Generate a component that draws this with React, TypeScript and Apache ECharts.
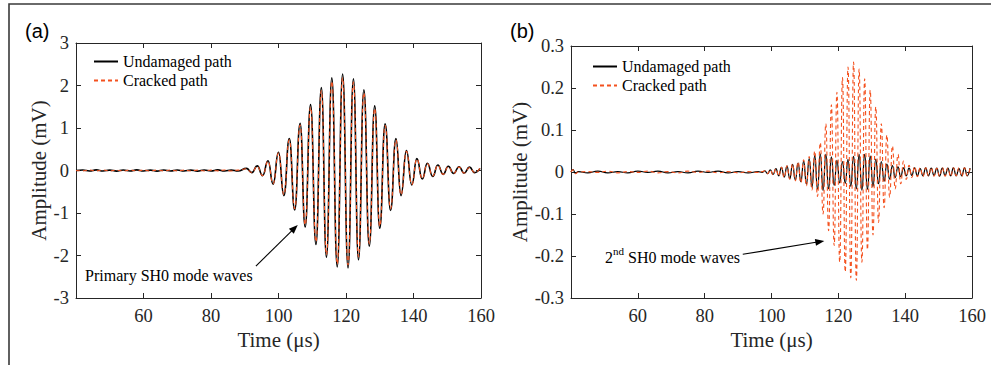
import React, { useEffect, useRef } from 'react';
import * as echarts from 'echarts';

// ---------- data ----------
const X_MIN = 40;
const X_MAX = 160;
const X_STEP = 20;

// Panel (a): primary SH0 mode, baseline noise before arrival
const aBaseT = [40, 42, 44, 46, 48, 50, 52, 54, 56, 58, 60, 62, 64, 66, 68, 70, 72, 74, 76, 78, 80, 82, 84, 86, 88];
const aBaseUndamaged = [0.0, 0.012, -0.01, 0.015, -0.012, 0.01, -0.014, 0.012, -0.01, 0.014, -0.012, 0.01, -0.015, 0.012, -0.01, 0.013, -0.012, 0.01, -0.014, 0.012, -0.01, 0.015, -0.012, 0.01, -0.013];
const aBaseCracked = [0.0, -0.008, 0.011, -0.009, 0.012, -0.01, 0.008, -0.012, 0.01, -0.009, 0.011, -0.012, 0.009, -0.01, 0.012, -0.008, 0.01, -0.011, 0.009, -0.012, 0.01, -0.009, 0.011, -0.01, 0.008];

// Panel (a): wave-packet extrema (time, amplitude)
const aPeakT = [90.5, 92.1, 93.7, 95.3, 96.9, 98.4, 100.0, 101.6, 103.2, 104.8, 106.4, 107.9, 109.5, 111.1, 112.7, 114.2, 115.8, 117.4, 119.0, 120.6, 122.2, 123.7, 125.3, 126.9, 128.5, 130.0, 131.6, 133.2, 134.8, 136.3, 137.9, 139.5, 141.0, 142.6, 144.1, 145.7, 147.2, 148.8, 150.3, 151.9, 153.5, 155.0, 156.6, 158.1, 159.7];
const aUndamaged = [0.05, -0.05, 0.11, -0.12, 0.23, -0.32, 0.43, -0.59, 0.75, -0.93, 1.11, -1.33, 1.55, -1.74, 1.95, -2.04, 2.18, -2.27, 2.27, -2.29, 2.16, -2.1, 1.9, -1.78, 1.52, -1.36, 1.1, -0.94, 0.75, -0.59, 0.47, -0.34, 0.28, -0.2, 0.17, -0.14, 0.13, -0.09, 0.1, -0.07, 0.09, -0.06, 0.08, -0.05, 0.05];
const aCracked = [0.04, -0.05, 0.1, -0.12, 0.22, -0.31, 0.41, -0.57, 0.72, -0.9, 1.07, -1.28, 1.49, -1.68, 1.88, -1.98, 2.1, -2.2, 2.18, -2.22, 2.08, -2.03, 1.83, -1.72, 1.46, -1.31, 1.06, -0.9, 0.72, -0.57, 0.45, -0.33, 0.27, -0.19, 0.16, -0.13, 0.12, -0.09, 0.09, -0.07, 0.08, -0.06, 0.07, -0.05, 0.05];

// Panel (b): 2nd SH0 mode, baseline before arrival
const bBaseT = [40, 40.6, 41.3, 42.2, 45, 48, 51, 54, 57, 60, 63, 66, 69, 72, 75, 78, 81, 84, 87, 90, 93, 96, 97.2];
const bBaseUndamaged = [0, 0.006, -0.003, 0.001, -0.002, 0.002, -0.002, 0.001, -0.002, 0.002, -0.001, 0.002, -0.002, 0.001, -0.002, 0.002, -0.001, 0.002, -0.002, 0.001, -0.002, 0.001, -0.001];
const bBaseCracked = [0, 0.005, -0.004, 0.0, 0.001, -0.001, 0.002, -0.002, 0.001, -0.001, 0.002, -0.002, 0.001, -0.002, 0.002, -0.001, 0.002, -0.002, 0.001, -0.002, 0.001, -0.001, 0.001];

// Panel (b): extrema times and amplitudes
const bT = [98.0, 98.83, 99.66, 100.49, 101.32, 102.15, 102.98, 103.81, 104.64, 105.47,
  106.3, 107.13, 107.96, 108.79, 109.62, 110.45, 111.28, 112.11, 112.94, 113.77,
  114.6, 115.43, 116.26, 117.09, 117.92, 118.75, 119.58, 120.41, 121.24, 122.07,
  122.9, 123.73, 124.56, 125.39, 126.22, 127.05, 127.88, 128.71, 129.54, 130.37,
  131.2, 132.03, 132.86, 133.69, 134.52, 135.35, 136.18, 137.01, 137.84, 138.67,
  139.5, 140.33, 141.16, 141.99, 142.82, 143.65, 144.48, 145.31, 146.14, 146.97,
  147.8, 148.63, 149.46, 150.29, 151.12, 151.95, 152.78, 153.61, 154.44, 155.27,
  156.1, 156.93, 157.76, 158.59, 159.42];
const bUndamaged = [0.003, -0.004, 0.005, -0.006, 0.008, -0.009, 0.011, -0.012, 0.014, -0.016,
  0.018, -0.019, 0.021, -0.023, 0.026, -0.029, 0.032, -0.036, 0.039, -0.041,
  0.043, -0.044, 0.042, -0.04, 0.036, -0.032, 0.028, -0.026, 0.025, -0.027,
  0.03, -0.034, 0.037, -0.04, 0.042, -0.043, 0.042, -0.041, 0.038, -0.035,
  0.031, -0.028, 0.025, -0.022, 0.019, -0.017, 0.015, -0.013, 0.012, -0.011,
  0.01, -0.009, 0.009, -0.008, 0.01, -0.009, 0.008, -0.009, 0.01, -0.009,
  0.009, -0.008, 0.009, -0.01, 0.009, -0.008, 0.009, -0.009, 0.01, -0.009,
  0.008, -0.009, 0.01, -0.009, 0.009];
const bCracked = [0.003, -0.004, 0.005, -0.007, 0.008, -0.01, 0.011, -0.013, 0.015, -0.017,
  0.019, -0.021, 0.024, -0.026, 0.029, -0.033, 0.037, -0.043, 0.05, -0.058,
  0.07, -0.1, 0.115, -0.14, 0.16, -0.175, 0.19, -0.215, 0.225, -0.238,
  0.25, -0.252, 0.262, -0.258, 0.245, -0.215, 0.222, -0.185, 0.195, -0.15,
  0.155, -0.12, 0.115, -0.085, 0.088, -0.06, 0.062, -0.04, 0.042, -0.028,
  0.026, -0.018, 0.016, -0.013, 0.013, -0.011, 0.01, -0.011, 0.01, -0.009,
  0.011, -0.01, 0.009, -0.01, 0.011, -0.01, 0.009, -0.011, 0.01, -0.009,
  0.01, -0.011, 0.01, -0.009, 0.01];

const SERIES_NAMES = ['Undamaged path', 'Cracked path'];

// Annotation anchors in data coordinates
const A_ARROW_FROM = [93.3, -2.25];
const A_ARROW_TO = [105.7, -1.28];
const A_TEXT_AT = [42.7, -2.46];
const B_ARROW_FROM = [91.4, -0.196];
const B_ARROW_TO = [115.8, -0.164];
const B_TEXT_AT = [50.2, -0.203];

// ---------- styling ----------
const SERIF = '"Liberation Serif", "Times New Roman", serif';
const SANS = '"Liberation Sans", Arial, sans-serif';
const AXIS_COLOR = '#262626';
const ORANGE = '#f4511e';

const zip = (ts: number[], vs: number[]) => ts.map((t, i) => [t, vs[i]]);

function xAxes(gridIndex: number) {
  const common = {
    type: 'value' as const,
    gridIndex,
    min: X_MIN,
    max: X_MAX,
    interval: X_STEP,
    splitLine: { show: false },
    axisLine: { show: true, onZero: false, lineStyle: { color: AXIS_COLOR, width: 1 } },
    axisTick: { show: true, inside: true, length: 5, lineStyle: { color: AXIS_COLOR } },
  };
  return [
    {
      ...common,
      position: 'bottom',
      name: 'Time (μs)',
      nameLocation: 'middle',
      nameGap: 31,
      nameTextStyle: { fontFamily: SERIF, fontSize: 21, color: AXIS_COLOR },
      axisLabel: {
        show: true,
        margin: 8,
        fontFamily: SERIF,
        fontSize: 18.5,
        color: AXIS_COLOR,
        formatter: (v: number) => (v === X_MIN ? '' : String(v)),
      },
    },
    { ...common, position: 'top', axisLabel: { show: false } },
  ];
}

function yAxes(gridIndex: number, min: number, max: number, step: number, nameGap: number) {
  const common = {
    type: 'value' as const,
    gridIndex,
    min,
    max,
    interval: step,
    splitLine: { show: false },
    axisLine: { show: true, onZero: false, lineStyle: { color: AXIS_COLOR, width: 1 } },
    axisTick: { show: true, inside: true, length: 5, lineStyle: { color: AXIS_COLOR } },
  };
  return [
    {
      ...common,
      position: 'left',
      name: 'Amplitude (mV)',
      nameLocation: 'middle',
      nameGap,
      nameTextStyle: { fontFamily: SERIF, fontSize: 21, color: AXIS_COLOR },
      axisLabel: {
        show: true,
        margin: 7,
        fontFamily: SERIF,
        fontSize: 18.5,
        color: AXIS_COLOR,
        formatter: (v: number) => String(Math.round(v * 1000) / 1000),
      },
    },
    { ...common, position: 'right', axisLabel: { show: false } },
  ];
}

function lineSeries(name: string, data: number[][], axisIdx: number, color: string, width: number, dashed: boolean, z: number) {
  return {
    type: 'line',
    name,
    xAxisIndex: axisIdx,
    yAxisIndex: axisIdx,
    data,
    symbol: 'none',
    showSymbol: false,
    smooth: 0.5,
    smoothMonotone: 'x',
    clip: true,
    silent: true,
    z,
    itemStyle: { color },
    lineStyle: { color, width, type: dashed ? [4, 3] : 'solid' },
  };
}

function arrowGraphic(from: number[], to: number[]) {
  const dx = to[0] - from[0];
  const dy = to[1] - from[1];
  const len = Math.hypot(dx, dy) || 1;
  const ux = dx / len;
  const uy = dy / len;
  const hl = 9;
  const hw = 3.5;
  const bx = to[0] - ux * hl;
  const by = to[1] - uy * hl;
  return [
    {
      type: 'line',
      shape: { x1: from[0], y1: from[1], x2: bx + ux * 2, y2: by + uy * 2 },
      style: { stroke: '#000', lineWidth: 1.1 },
      silent: true,
    },
    {
      type: 'polygon',
      shape: { points: [[to[0], to[1]], [bx - uy * hw, by + ux * hw], [bx + uy * hw, by - ux * hw]] },
      style: { fill: '#000' },
      silent: true,
    },
  ];
}

export default function App() {
  const ref = useRef<HTMLDivElement>(null);

  useEffect(() => {
    if (!ref.current) return;
    const chart = echarts.init(ref.current, undefined, { renderer: 'svg' });

    const aU = [...zip(aBaseT, aBaseUndamaged), ...zip(aPeakT, aUndamaged)];
    const aC = [...zip(aBaseT, aBaseCracked), ...zip(aPeakT, aCracked)];
    const bU = [...zip(bBaseT, bBaseUndamaged), ...zip(bT, bUndamaged)];
    const bC = [...zip(bBaseT, bBaseCracked), ...zip(bT, bCracked)];

    const legendCommon = {
      data: SERIES_NAMES,
      orient: 'vertical',
      itemWidth: 24,
      itemHeight: 12,
      itemGap: 2,
      selectedMode: false,
      itemStyle: { opacity: 0 },
      textStyle: { fontFamily: SERIF, fontSize: 16, color: '#000', lineHeight: 17 },
    };

    chart.setOption({
      animation: false,
      backgroundColor: '#fff',
      grid: [
        { left: 76, top: 43, width: 405, height: 255, containLabel: false },
        { left: 571, top: 46, width: 401, height: 252, containLabel: false },
      ],
      xAxis: [...xAxes(0), ...xAxes(1)],
      yAxis: [...yAxes(0, -3, 3, 1, 25), ...yAxes(1, -0.3, 0.3, 0.1, 39)],
      legend: [
        { ...legendCommon, left: 88, top: 48 },
        { ...legendCommon, left: 587, top: 53 },
      ],
      series: [
        // axis index mapping: grid0 -> x0 / y0 ; grid1 -> x2 / y2
        lineSeries(SERIES_NAMES[0], aU, 0, '#000', 1.6, false, 2),
        lineSeries(SERIES_NAMES[1], aC, 0, ORANGE, 1.1, true, 3),
        lineSeries(SERIES_NAMES[0], bU, 2, '#000', 1.2, false, 2),
        lineSeries(SERIES_NAMES[1], bC, 2, ORANGE, 1.1, true, 3),
      ],
    });

    const pa = (p: number[]) => chart.convertToPixel({ seriesIndex: 0 }, p) as number[];
    const pb = (p: number[]) => chart.convertToPixel({ seriesIndex: 2 }, p) as number[];

    const aFrom = pa(A_ARROW_FROM);
    const aTo = pa(A_ARROW_TO);
    const aTxt = pa(A_TEXT_AT);
    const bFrom = pb(B_ARROW_FROM);
    const bTo = pb(B_ARROW_TO);
    const bTxt = pb(B_TEXT_AT);

    chart.setOption({
      graphic: [
        {
          type: 'polyline',
          shape: { points: [[9, 365], [9, 4], [991, 4]] },
          style: { stroke: '#3a3a3a', lineWidth: 1.6, fill: 'none' },
          silent: true,
        },
        {
          type: 'text',
          x: 25,
          y: 31,
          style: { text: '(a)', fontFamily: SANS, fontSize: 20, fill: '#000', align: 'left', verticalAlign: 'middle' },
          silent: true,
        },
        {
          type: 'text',
          x: 510,
          y: 31,
          style: { text: '(b)', fontFamily: SANS, fontSize: 20, fill: '#000', align: 'left', verticalAlign: 'middle' },
          silent: true,
        },
        ...arrowGraphic(aFrom, aTo),
        ...arrowGraphic(bFrom, bTo),
        {
          type: 'text',
          x: aTxt[0],
          y: aTxt[1],
          style: {
            text: 'Primary SH0 mode waves',
            fontFamily: SERIF,
            fontSize: 16,
            fill: '#000',
            align: 'left',
            verticalAlign: 'middle',
          },
          silent: true,
        },
        {
          type: 'text',
          x: bTxt[0],
          y: bTxt[1],
          style: {
            text: '{n|2}{s|nd}{n| SH0 mode waves}',
            align: 'left',
            verticalAlign: 'middle',
            rich: {
              n: { fontFamily: SERIF, fontSize: 16, fill: '#000', lineHeight: 24 },
              s: { fontFamily: SERIF, fontSize: 11, fill: '#000', verticalAlign: 'top', lineHeight: 12 },
            },
          },
          silent: true,
        },
      ],
    });

    return () => chart.dispose();
  }, []);

  return (
    <div
      ref={ref}
      style={{ position: 'fixed', left: 0, top: 0, width: 991, height: 365, background: '#fff' }}
    />
  );
}
